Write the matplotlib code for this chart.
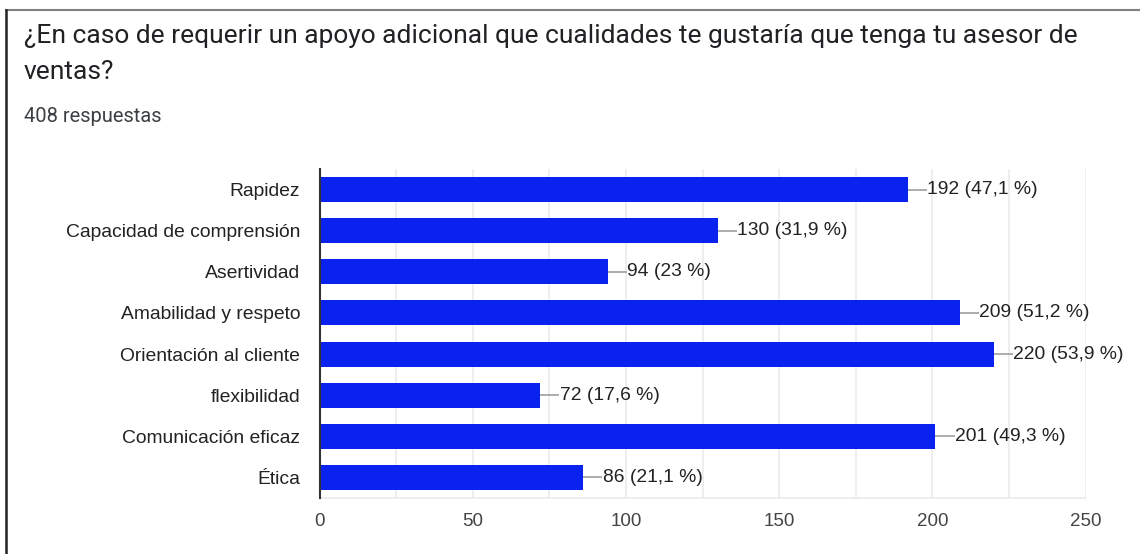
import matplotlib.pyplot as plt
from matplotlib.lines import Line2D

categorias = ['Rapidez', 'Capacidad de comprensión', 'Asertividad',
              'Amabilidad y respeto', 'Orientación al cliente', 'flexibilidad',
              'Comunicación eficaz', 'Ética']
respuestas = [192, 130, 94, 209, 220, 72, 201, 86]
porcentajes = ['47,1', '31,9', '23', '51,2', '53,9', '17,6', '49,3', '21,1']
total = 408
ticks_x = [0, 50, 100, 150, 200, 250]

azul = '#0a22ee'

fig = plt.figure(figsize=(11.4, 5.54), dpi=100)
fig.patch.set_facecolor('white')

# marco de la tarjeta
fig.add_artist(Line2D([6/1140, 1], [1 - 9.5/554, 1 - 9.5/554], color='#808080', lw=1.5))
fig.add_artist(Line2D([6/1140, 6/1140], [0, 1 - 9.5/554], color='#222222', lw=1.8))

fig.text(24/1140, 1 - 36/554,
         '¿En caso de requerir un apoyo adicional que cualidades te gustaría que tenga tu asesor de',
         fontsize=19, family='Roboto', color='#202124', va='center')
fig.text(24/1140, 1 - 72/554, 'ventas?', fontsize=19, family='Roboto',
         color='#202124', va='center')
fig.text(24/1140, 1 - 117/554, f'{total} respuestas', fontsize=14.5, family='Roboto',
         color='#3c4043', va='center')

ax = fig.add_axes([319.5/1140, 56/554, 766/1140, 329/554])
y = list(range(len(categorias)))
ax.barh(y, respuestas, height=0.61, color=azul, zorder=3)

for yi, v, p in zip(y, respuestas, porcentajes):
    ax.plot([v, v + 6.3], [yi, yi], color='#9e9e9e', lw=1.2, zorder=2,
            solid_capstyle='butt')
    ax.text(v + 6.4, yi, f'{v} ({p} %)', va='center', ha='left',
            fontsize=13.9, family='Liberation Sans', color='#222222', zorder=4)

ax.set_xlim(0, 250)
ax.set_ylim(len(categorias) - 0.5, -0.5)
ax.set_yticks(y)
ax.set_yticklabels(categorias, family='Liberation Sans', fontsize=13.9, color='#222222')
ax.set_xticks(ticks_x)
ax.set_xticklabels([str(t) for t in ticks_x], family='Liberation Sans',
                   fontsize=13.5, color='#444444')
ax.set_xticks(range(0, 251, 25), minor=True)
ax.tick_params(axis='both', which='both', length=0)
ax.tick_params(axis='x', pad=11)
ax.tick_params(axis='y', pad=14)
ax.grid(axis='x', which='both', color='#ebebeb', lw=1.2, zorder=0)

for lado in ['top', 'right']:
    ax.spines[lado].set_visible(False)
ax.spines['bottom'].set_color('#ebebeb')
ax.spines['bottom'].set_linewidth(1.2)
ax.spines['left'].set_color('#333333')
ax.spines['left'].set_linewidth(1.5)
ax.spines['left'].set_zorder(5)

fig.savefig('out.png', dpi=100)
